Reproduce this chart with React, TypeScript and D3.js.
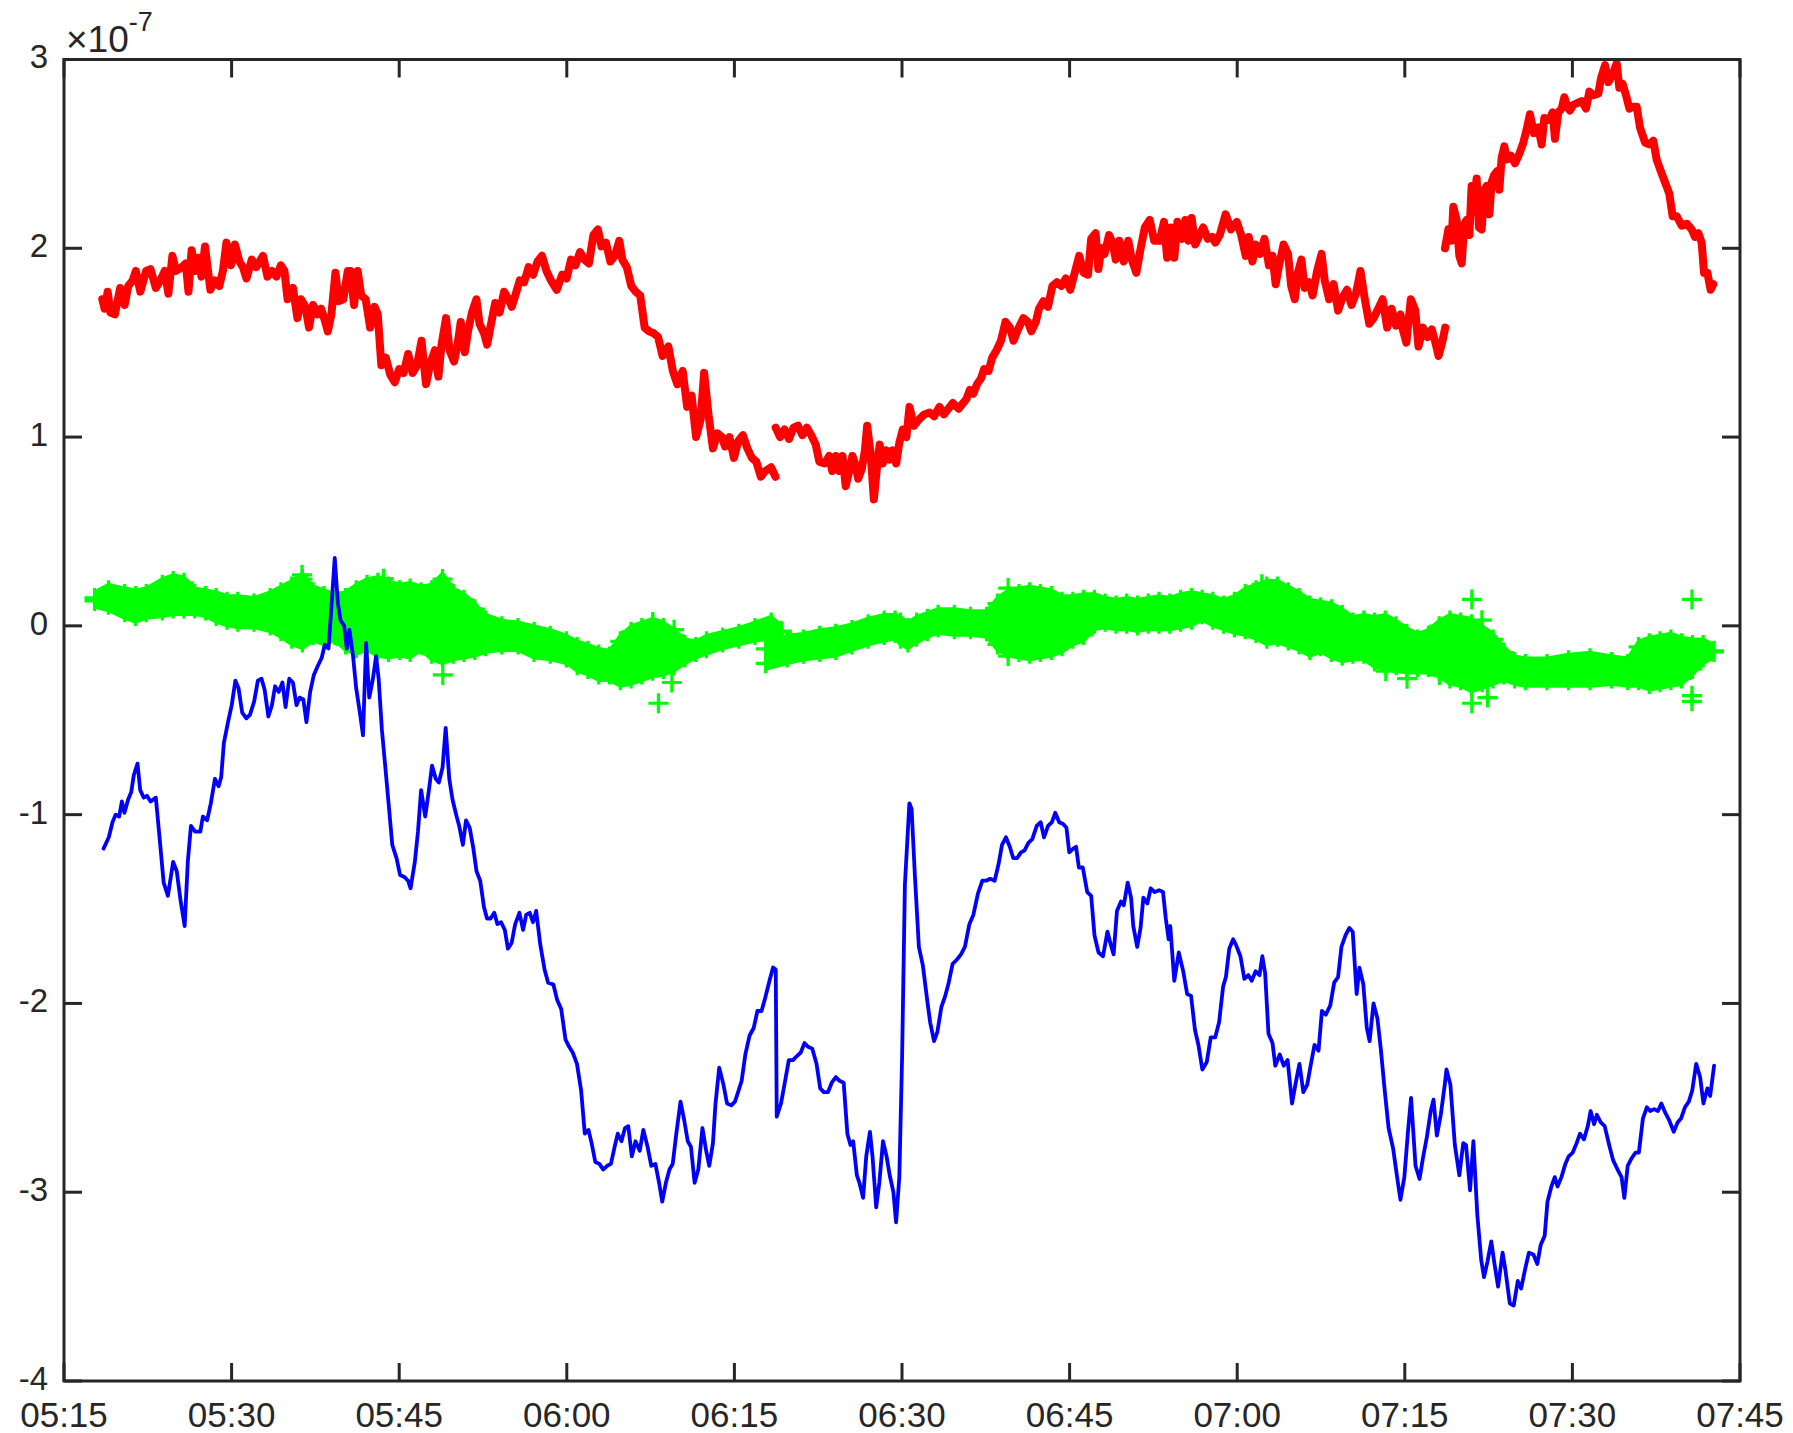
import React, { useEffect } from 'react';
import * as d3 from 'd3';

// time in minutes after 05:15, values in units of 1e-7
const xTickLabels = ['05:15', '05:30', '05:45', '06:00', '06:15', '06:30', '06:45', '07:00', '07:15', '07:30', '07:45'];
const yTicks = [-4, -3, -2, -1, 0, 1, 2, 3];
const exponentLabel = '-7';

const redSeg1: [number, number][] = [
  [3.43, 1.73], [3.63, 1.68], [3.91, 1.77], [4.15, 1.66], [4.55, 1.65], [5.03, 1.79], [5.43, 1.7], [5.75, 1.8], [6.15, 1.83], [6.43, 1.88],
  [6.83, 1.77], [7.35, 1.88], [7.74, 1.89], [8.22, 1.79], [8.62, 1.83], [9.02, 1.88], [9.34, 1.76], [9.7, 1.96], [10.02, 1.88], [10.54, 1.9],
  [10.9, 1.92], [11.14, 1.77], [11.42, 1.99], [11.74, 1.88], [12.02, 1.95], [12.3, 1.85], [12.62, 2.01], [13.1, 1.78], [13.5, 1.83], [13.9, 1.8],
  [14.22, 1.88], [14.54, 2.03], [14.94, 1.91], [15.3, 2.02], [15.7, 1.93], [16.01, 1.9], [16.33, 1.84], [16.81, 1.94], [17.21, 1.9], [17.81, 1.96],
  [18.21, 1.85], [18.61, 1.88], [19.01, 1.85], [19.41, 1.91], [19.73, 1.88], [20.01, 1.73], [20.49, 1.79], [20.89, 1.63], [21.21, 1.73], [21.61, 1.69],
  [21.93, 1.58], [22.29, 1.7], [22.69, 1.65], [23.01, 1.68], [23.33, 1.62], [23.61, 1.56], [23.93, 1.65], [24.29, 1.87], [24.6, 1.72], [25.0, 1.73],
  [25.4, 1.88], [25.64, 1.88], [25.96, 1.7], [26.28, 1.88], [26.6, 1.75], [27.0, 1.73], [27.4, 1.58], [27.8, 1.69], [28.08, 1.65], [28.4, 1.38],
  [28.8, 1.42], [29.2, 1.33], [29.6, 1.29], [30.0, 1.36], [30.4, 1.34], [30.8, 1.44], [31.2, 1.34], [31.6, 1.38], [32.0, 1.51], [32.4, 1.28],
  [32.79, 1.39], [33.19, 1.46], [33.51, 1.32], [33.79, 1.49], [34.19, 1.63], [34.51, 1.46], [34.91, 1.4], [35.19, 1.48], [35.51, 1.61], [35.87, 1.45],
  [36.19, 1.57], [36.51, 1.66], [36.91, 1.73], [37.19, 1.6], [37.59, 1.55], [37.87, 1.49], [38.19, 1.59], [38.59, 1.71], [38.99, 1.66], [39.39, 1.77],
  [39.79, 1.73], [40.07, 1.69], [40.39, 1.75], [40.79, 1.83], [41.18, 1.82], [41.58, 1.9], [41.98, 1.86], [42.38, 1.93], [42.78, 1.96], [43.18, 1.88],
  [43.58, 1.83], [44.1, 1.78], [44.58, 1.86], [44.98, 1.84], [45.38, 1.94], [45.78, 1.91], [46.18, 1.98], [46.58, 1.94], [46.98, 1.92], [47.38, 2.07],
  [47.78, 2.1], [48.1, 2.01], [48.5, 2.03], [48.9, 1.93], [49.3, 1.96], [49.7, 2.04], [49.97, 1.94], [50.37, 1.9], [50.77, 1.8], [51.17, 1.77],
  [51.57, 1.75], [51.97, 1.58], [52.37, 1.56], [52.77, 1.55], [53.17, 1.53], [53.57, 1.43], [54.09, 1.48], [54.49, 1.35], [54.89, 1.28], [55.37, 1.35],
  [55.77, 1.16], [56.17, 1.22], [56.57, 1.0], [56.97, 1.09], [57.29, 1.34], [57.68, 1.12], [58.08, 0.94], [58.48, 1.02], [58.88, 1.0], [59.16, 0.95],
  [59.56, 1.0], [59.96, 0.89], [60.36, 0.98], [60.76, 1.01], [61.16, 0.94], [61.56, 0.89], [61.96, 0.87], [62.36, 0.79], [62.76, 0.82], [63.28, 0.84],
  [63.68, 0.79],
];

const redSeg2: [number, number][] = [
  [63.69, 1.05], [64.09, 1.0], [64.49, 1.04], [64.89, 0.99], [65.29, 1.05], [65.69, 1.06], [66.09, 1.01], [66.48, 1.05], [66.88, 1.01], [67.28, 0.96],
  [67.6, 0.87], [68.08, 0.86], [68.48, 0.9], [68.76, 0.82], [69.08, 0.9], [69.4, 0.82], [69.68, 0.9], [69.96, 0.74], [70.28, 0.82], [70.56, 0.9],
  [70.8, 0.86], [71.08, 0.78], [71.4, 0.83], [71.68, 0.93], [71.88, 1.06], [72.2, 0.91], [72.48, 0.67], [72.76, 0.84], [73.0, 0.96], [73.28, 0.86],
  [73.6, 0.93], [73.88, 0.88], [74.16, 0.93], [74.48, 0.86], [74.76, 0.97], [75.07, 1.04], [75.39, 1.0], [75.67, 1.16], [76.07, 1.06], [76.47, 1.09],
  [76.99, 1.12], [77.47, 1.13], [77.87, 1.11], [78.35, 1.16], [78.75, 1.12], [79.15, 1.15], [79.55, 1.18], [80.07, 1.15], [80.47, 1.18], [80.75, 1.2],
  [81.07, 1.25], [81.39, 1.23], [81.71, 1.28], [82.07, 1.31], [82.35, 1.36], [82.75, 1.35], [83.07, 1.42], [83.46, 1.46], [83.86, 1.51], [84.26, 1.61],
  [84.66, 1.58], [84.98, 1.51], [85.38, 1.57], [85.86, 1.63], [86.26, 1.61], [86.58, 1.56], [86.98, 1.61], [87.26, 1.68], [87.66, 1.72], [88.06, 1.69],
  [88.46, 1.8], [88.86, 1.82], [89.26, 1.8], [89.66, 1.84], [90.06, 1.78], [90.46, 1.87], [90.86, 1.96], [91.26, 1.87], [91.65, 1.86], [91.93, 2.05],
  [92.33, 2.08], [92.57, 1.89], [92.85, 2.0], [93.13, 1.97], [93.53, 2.07], [93.85, 2.03], [94.13, 1.94], [94.45, 2.04], [94.85, 1.93], [95.25, 2.04],
  [95.57, 1.94], [95.97, 1.87], [96.33, 1.99], [96.73, 2.11], [97.17, 2.15], [97.57, 2.04], [98.05, 2.04], [98.45, 2.14], [98.73, 1.95], [99.05, 2.11],
  [99.37, 1.95], [99.65, 2.14], [100.05, 2.05], [100.36, 2.15], [100.64, 2.04], [100.92, 2.16], [101.24, 2.02], [101.64, 2.07], [101.96, 2.11], [102.36, 2.05],
  [102.76, 2.06], [103.04, 2.03], [103.44, 2.07], [103.96, 2.18], [104.44, 2.1], [104.96, 2.14], [105.36, 2.07], [105.76, 1.96], [106.04, 2.06], [106.36, 1.93],
  [106.64, 2.02], [107.04, 1.97], [107.44, 2.05], [107.84, 1.91], [108.16, 1.96], [108.44, 1.81], [108.75, 1.91], [109.15, 2.02], [109.55, 1.97], [109.83, 1.8],
  [110.15, 1.73], [110.43, 1.87], [110.75, 1.94], [111.03, 1.79], [111.43, 1.82], [111.75, 1.75], [112.15, 1.88], [112.55, 1.97], [112.83, 1.83], [113.23, 1.73],
  [113.63, 1.81], [114.03, 1.67], [114.43, 1.74], [114.83, 1.78], [115.23, 1.7], [115.63, 1.76], [116.03, 1.88], [116.42, 1.73], [116.82, 1.6], [117.22, 1.63],
  [117.62, 1.68], [118.02, 1.73], [118.42, 1.58], [118.82, 1.68], [119.22, 1.59], [119.62, 1.65], [119.82, 1.57], [120.14, 1.5], [120.54, 1.73], [120.94, 1.67],
  [121.22, 1.48], [121.62, 1.58], [122.02, 1.53], [122.42, 1.57], [122.74, 1.5], [123.02, 1.43], [123.34, 1.5], [123.62, 1.58],
];

const redSeg3: [number, number][] = [
  [123.6, 2.0], [123.9, 2.1], [124.19, 2.04], [124.34, 2.22], [124.64, 2.15], [124.88, 1.96], [125.09, 1.92], [125.33, 2.13], [125.54, 2.15], [125.78, 2.07],
  [125.98, 2.33], [126.19, 2.24], [126.43, 2.37], [126.64, 2.11], [126.88, 2.1], [127.12, 2.31], [127.33, 2.33], [127.57, 2.18], [127.77, 2.35], [128.01, 2.39],
  [128.28, 2.41], [128.46, 2.31], [128.67, 2.48], [128.91, 2.54], [129.12, 2.47], [129.5, 2.49], [129.86, 2.45], [130.25, 2.5], [130.61, 2.56], [130.91, 2.63],
  [131.2, 2.71], [131.56, 2.61], [131.95, 2.64], [132.25, 2.55], [132.49, 2.69], [132.94, 2.68], [133.23, 2.72], [133.44, 2.58], [133.74, 2.72], [134.04, 2.74],
  [134.28, 2.8], [134.49, 2.76], [134.78, 2.73], [135.08, 2.76], [135.47, 2.77], [135.83, 2.78], [136.22, 2.74], [136.52, 2.83], [136.87, 2.81], [137.32, 2.82],
  [137.56, 2.9], [137.92, 2.97], [138.22, 2.88], [138.66, 2.93], [138.96, 2.98], [139.2, 2.85], [139.5, 2.87], [139.8, 2.81], [140.1, 2.74], [140.45, 2.75],
  [140.75, 2.75], [141.05, 2.64], [141.5, 2.56], [141.88, 2.55], [142.24, 2.57], [142.54, 2.47], [142.84, 2.42], [143.29, 2.35], [143.67, 2.29], [143.97, 2.17],
  [144.33, 2.17], [144.78, 2.12], [145.23, 2.13], [145.67, 2.1], [145.97, 2.06], [146.27, 2.08], [146.57, 2.03], [146.78, 1.87], [147.08, 1.87], [147.37, 1.78],
  [147.61, 1.81],
];

const blueTrace: [number, number][] = [
  [3.54, -1.18], [4.01, -1.12], [4.34, -1.04], [4.62, -1.0], [4.94, -1.01], [5.18, -0.93], [5.41, -0.99], [5.74, -0.92], [6.02, -0.88], [6.25, -0.79],
  [6.58, -0.73], [6.82, -0.87], [7.14, -0.91], [7.42, -0.9], [7.75, -0.93], [8.22, -0.91], [8.55, -1.12], [8.92, -1.36], [9.3, -1.43], [9.77, -1.25],
  [10.09, -1.3], [10.42, -1.45], [10.8, -1.59], [11.08, -1.25], [11.36, -1.06], [11.73, -1.09], [12.2, -1.09], [12.43, -1.01], [12.81, -1.03], [13.14, -0.94],
  [13.51, -0.81], [13.84, -0.85], [14.07, -0.8], [14.31, -0.62], [14.68, -0.51], [15.01, -0.42], [15.34, -0.29], [15.62, -0.33], [15.95, -0.46], [16.32, -0.49],
  [16.65, -0.47], [17.02, -0.4], [17.35, -0.29], [17.68, -0.28], [17.96, -0.34], [18.29, -0.48], [18.61, -0.42], [18.89, -0.32], [19.22, -0.35], [19.55, -0.3],
  [19.83, -0.43], [20.16, -0.28], [20.49, -0.3], [20.81, -0.42], [21.1, -0.38], [21.42, -0.39], [21.7, -0.51], [22.03, -0.35], [22.36, -0.26], [22.73, -0.21],
  [23.06, -0.17], [23.34, -0.1], [23.67, -0.12], [23.9, 0.07], [24.23, 0.36], [24.51, 0.12], [24.75, 0.03], [25.08, 0.0], [25.31, -0.12], [25.54, -0.02],
  [25.87, -0.16], [26.15, -0.33], [26.48, -0.46], [26.76, -0.58], [27.04, -0.09], [27.32, -0.38], [27.65, -0.28], [27.93, -0.16], [28.16, -0.28], [28.45, -0.55],
  [28.73, -0.73], [29.05, -0.94], [29.38, -1.16], [29.76, -1.23], [30.08, -1.32], [30.46, -1.33], [30.79, -1.35], [31.02, -1.39], [31.4, -1.25], [31.68, -1.09],
  [31.96, -0.87], [32.33, -1.01], [32.66, -0.87], [32.94, -0.74], [33.27, -0.81], [33.55, -0.83], [33.88, -0.75], [34.16, -0.54], [34.48, -0.81], [34.77, -0.92],
  [35.14, -1.01], [35.37, -1.06], [35.7, -1.16], [35.98, -1.03], [36.31, -1.07], [36.64, -1.18], [36.92, -1.3], [37.25, -1.35], [37.59, -1.49], [37.86, -1.55],
  [38.18, -1.55], [38.51, -1.52], [38.79, -1.58], [39.12, -1.57], [39.45, -1.61], [39.73, -1.71], [40.06, -1.68], [40.38, -1.58], [40.76, -1.52], [41.09, -1.61],
  [41.37, -1.53], [41.69, -1.52], [41.97, -1.57], [42.26, -1.51], [42.63, -1.69], [43.01, -1.82], [43.33, -1.89], [43.8, -1.9], [44.13, -1.98], [44.5, -2.03],
  [44.88, -2.19], [45.21, -2.23], [45.53, -2.26], [45.91, -2.32], [46.28, -2.46], [46.61, -2.69], [46.94, -2.67], [47.22, -2.74], [47.55, -2.84], [47.92, -2.85],
  [48.25, -2.88], [48.62, -2.86], [48.95, -2.85], [49.28, -2.76], [49.56, -2.69], [49.89, -2.73], [50.21, -2.66], [50.5, -2.65], [50.82, -2.81], [51.15, -2.73],
  [51.53, -2.78], [51.85, -2.67], [52.23, -2.76], [52.56, -2.86], [52.93, -2.85], [53.26, -2.95], [53.54, -3.05], [53.87, -2.95], [54.19, -2.88], [54.48, -2.85],
  [54.8, -2.69], [55.18, -2.52], [55.51, -2.62], [55.83, -2.73], [56.11, -2.76], [56.44, -2.95], [56.77, -2.88], [57.14, -2.66], [57.47, -2.78], [57.75, -2.86],
  [58.08, -2.74], [58.31, -2.53], [58.64, -2.34], [59.02, -2.43], [59.34, -2.53], [59.72, -2.54], [60.05, -2.52], [60.33, -2.47], [60.65, -2.41], [60.98, -2.27],
  [61.36, -2.17], [61.73, -2.13], [62.06, -2.04], [62.43, -2.04], [62.76, -1.97], [63.14, -1.88], [63.46, -1.81], [63.7, -1.82], [63.79, -2.6], [64.17, -2.53],
  [64.54, -2.41], [64.87, -2.3], [65.24, -2.3], [65.57, -2.28], [65.94, -2.26], [66.27, -2.21], [66.6, -2.23], [66.97, -2.24], [67.35, -2.32], [67.68, -2.45],
  [68.0, -2.47], [68.38, -2.47], [68.71, -2.42], [69.08, -2.39], [69.41, -2.41], [69.78, -2.42], [70.11, -2.69], [70.39, -2.75], [70.63, -2.73], [70.96, -2.91],
  [71.19, -2.95], [71.52, -3.03], [71.8, -2.81], [72.13, -2.68], [72.36, -2.81], [72.69, -3.08], [72.97, -2.95], [73.3, -2.73], [73.62, -2.81], [73.9, -2.91],
  [74.23, -3.0], [74.47, -3.16], [74.76, -2.92], [75.01, -2.28], [75.26, -1.37], [75.66, -0.94], [75.86, -0.97], [76.16, -1.33], [76.51, -1.7], [76.87, -1.8],
  [77.27, -1.99], [77.52, -2.1], [77.87, -2.2], [78.17, -2.15], [78.52, -2.02], [78.87, -1.96], [79.18, -1.89], [79.53, -1.79], [79.88, -1.77], [80.28, -1.74],
  [80.63, -1.7], [81.03, -1.58], [81.39, -1.53], [81.79, -1.42], [82.19, -1.35], [82.54, -1.35], [82.89, -1.34], [83.29, -1.35], [83.65, -1.26], [83.95, -1.16],
  [84.3, -1.12], [84.65, -1.17], [84.95, -1.23], [85.3, -1.23], [85.65, -1.2], [85.96, -1.19], [86.31, -1.15], [86.66, -1.13], [87.06, -1.06], [87.41, -1.04],
  [87.71, -1.12], [88.07, -1.06], [88.42, -1.04], [88.72, -0.99], [89.07, -1.04], [89.42, -1.05], [89.72, -1.07], [89.97, -1.2], [90.33, -1.18], [90.58, -1.17],
  [90.83, -1.28], [91.18, -1.28], [91.58, -1.41], [91.93, -1.43], [92.23, -1.64], [92.59, -1.73], [92.99, -1.75], [93.39, -1.62], [93.69, -1.69], [93.94, -1.74],
  [94.24, -1.51], [94.6, -1.46], [94.85, -1.48], [95.2, -1.36], [95.5, -1.44], [95.7, -1.59], [96.05, -1.7], [96.35, -1.6], [96.6, -1.44], [96.96, -1.47],
  [97.26, -1.39], [97.61, -1.41], [98.01, -1.4], [98.36, -1.41], [98.61, -1.55], [98.86, -1.66], [99.01, -1.59], [99.37, -1.88], [99.77, -1.73], [100.17, -1.83],
  [100.52, -1.95], [100.87, -1.96], [101.22, -2.14], [101.53, -2.22], [101.88, -2.35], [102.28, -2.31], [102.63, -2.18], [103.03, -2.18], [103.38, -2.1], [103.74, -1.91],
  [103.99, -1.86], [104.29, -1.71], [104.64, -1.66], [104.89, -1.69], [105.29, -1.75], [105.64, -1.87], [106.0, -1.85], [106.3, -1.88], [106.65, -1.83], [107.0, -1.85],
  [107.25, -1.75], [107.5, -1.84], [107.8, -2.16], [108.16, -2.21], [108.41, -2.33], [108.81, -2.27], [109.16, -2.33], [109.51, -2.3], [109.91, -2.53], [110.27, -2.41],
  [110.57, -2.32], [110.92, -2.47], [111.27, -2.43], [111.57, -2.33], [111.92, -2.22], [112.28, -2.25], [112.58, -2.04], [112.93, -2.06], [113.33, -2.01], [113.68, -1.89],
  [114.03, -1.86], [114.33, -1.7], [114.69, -1.64], [115.04, -1.6], [115.34, -1.62], [115.69, -1.95], [115.94, -1.81], [116.29, -1.9], [116.6, -2.13], [116.85, -2.2],
  [117.2, -2.0], [117.55, -2.08], [117.85, -2.24], [118.2, -2.46], [118.55, -2.66], [118.96, -2.77], [119.31, -2.92], [119.61, -3.04], [119.96, -2.92], [120.31, -2.66],
  [120.56, -2.5], [120.96, -2.86], [121.32, -2.93], [121.62, -2.82], [121.97, -2.71], [122.32, -2.57], [122.57, -2.51], [122.87, -2.7], [123.22, -2.59], [123.58, -2.43],
  [123.73, -2.35], [124.08, -2.43], [124.48, -2.75], [124.88, -2.91], [125.23, -2.74], [125.48, -2.75], [125.84, -2.99], [126.14, -2.73], [126.49, -3.12], [126.84, -3.36],
  [127.09, -3.45], [127.39, -3.37], [127.74, -3.26], [128.0, -3.37], [128.35, -3.5], [128.75, -3.32], [129.0, -3.41], [129.4, -3.59], [129.75, -3.6], [130.11, -3.47],
  [130.41, -3.51], [130.76, -3.41], [131.11, -3.32], [131.51, -3.33], [131.86, -3.38], [132.16, -3.28], [132.52, -3.23], [132.77, -3.05], [133.12, -2.97], [133.42, -2.92],
  [133.67, -2.97], [134.02, -2.92], [134.37, -2.85], [134.67, -2.81], [135.03, -2.79], [135.38, -2.74], [135.68, -2.69], [136.03, -2.72], [136.38, -2.65], [136.63, -2.57],
  [136.94, -2.64], [137.19, -2.59], [137.54, -2.63], [137.89, -2.65], [138.29, -2.75], [138.64, -2.83], [139.04, -2.88], [139.4, -2.92], [139.65, -3.03], [139.95, -2.86],
  [140.3, -2.82], [140.65, -2.79], [140.95, -2.79], [141.31, -2.61], [141.66, -2.55], [141.96, -2.57], [142.31, -2.56], [142.66, -2.57], [142.96, -2.53], [143.32, -2.58],
  [143.67, -2.62], [144.07, -2.68], [144.42, -2.63], [144.72, -2.61], [145.07, -2.55], [145.42, -2.52], [145.73, -2.46], [146.08, -2.32], [146.43, -2.39], [146.73, -2.53],
  [147.08, -2.45], [147.33, -2.49], [147.68, -2.33],
];

// green band: [time, upper edge, lower edge]
const greenSeg1: [number, number, number][] = [
  [2.73, 0.18, 0.1], [3.98, 0.22, 0.08], [5.43, 0.2, 0.04], [6.39, 0.19, 0.02], [7.36, 0.2, 0.04], [8.8, 0.25, 0.05], [9.77, 0.27, 0.06], [10.73, 0.26, 0.06],
  [11.7, 0.2, 0.06], [12.66, 0.19, 0.05], [13.62, 0.18, 0.02], [14.59, 0.16, 0.0], [15.55, 0.16, -0.01], [17.0, 0.15, -0.01], [18.45, 0.18, -0.03], [19.41, 0.21, -0.06],
  [20.38, 0.24, -0.1], [21.34, 0.28, -0.12], [22.3, 0.21, -0.08], [23.27, 0.19, -0.1], [24.23, 0.17, -0.08], [25.2, 0.18, -0.13], [26.16, 0.22, -0.15], [27.12, 0.25, -0.13],
  [28.09, 0.26, -0.16], [29.05, 0.24, -0.17], [30.02, 0.22, -0.16], [30.98, 0.23, -0.17], [31.95, 0.21, -0.13], [32.91, 0.22, -0.18], [33.88, 0.28, -0.2], [34.84, 0.2, -0.18],
  [35.8, 0.17, -0.17], [36.77, 0.12, -0.16], [37.73, 0.06, -0.14], [39.18, 0.03, -0.13], [40.63, 0.02, -0.13], [42.07, 0.0, -0.17], [43.52, -0.02, -0.18], [44.96, -0.05, -0.2],
  [45.93, -0.08, -0.24], [46.89, -0.1, -0.26], [47.86, -0.12, -0.29], [48.82, -0.13, -0.29], [49.79, -0.05, -0.32], [50.75, 0.0, -0.31], [51.71, 0.02, -0.29], [52.68, 0.04, -0.27],
  [53.64, 0.02, -0.26], [54.61, -0.02, -0.24], [55.57, -0.07, -0.2], [56.54, -0.08, -0.17], [57.5, -0.05, -0.15], [58.95, -0.03, -0.12], [60.39, -0.01, -0.1], [61.84, 0.02, -0.08],
  [63.29, 0.05, -0.07], [64.25, 0.0, -0.06],
];

const greenSeg2: [number, number, number][] = [
  [62.8, -0.09, -0.23], [64.73, -0.05, -0.2], [66.18, -0.04, -0.18], [67.63, -0.02, -0.17], [69.07, -0.01, -0.16], [70.52, 0.01, -0.13], [71.97, 0.04, -0.1], [73.41, 0.06, -0.08],
  [74.38, 0.06, -0.07], [74.86, 0.05, -0.1], [75.53, 0.02, -0.12], [76.31, 0.05, -0.09], [77.27, 0.07, -0.06], [78.23, 0.09, -0.04], [79.68, 0.09, -0.05], [81.13, 0.08, -0.05],
  [82.57, 0.08, -0.06], [83.54, 0.15, -0.13], [84.5, 0.19, -0.16], [85.47, 0.2, -0.17], [86.43, 0.21, -0.18], [87.39, 0.2, -0.17], [88.36, 0.19, -0.16], [89.32, 0.16, -0.14],
  [90.29, 0.16, -0.1], [91.25, 0.17, -0.08], [92.22, 0.17, -0.02], [93.18, 0.15, -0.01], [94.15, 0.14, -0.02], [95.11, 0.15, -0.02], [96.07, 0.14, -0.03], [97.04, 0.15, -0.02],
  [98.0, 0.16, -0.02], [98.97, 0.15, -0.02], [99.93, 0.17, -0.01], [100.9, 0.18, 0.0], [101.86, 0.17, 0.03], [102.82, 0.16, 0.0], [103.79, 0.14, -0.02], [104.75, 0.16, -0.04],
  [105.72, 0.2, -0.05], [106.68, 0.22, -0.07], [107.65, 0.24, -0.1], [108.61, 0.24, -0.09], [109.58, 0.21, -0.11], [110.54, 0.18, -0.13], [111.5, 0.14, -0.16], [112.47, 0.13, -0.14],
  [113.43, 0.12, -0.17], [114.4, 0.09, -0.19], [115.36, 0.05, -0.18], [116.33, 0.06, -0.18], [117.29, 0.05, -0.22], [118.25, 0.06, -0.23], [119.22, 0.03, -0.24], [120.18, -0.01, -0.25],
  [121.15, -0.04, -0.25], [122.11, -0.02, -0.25], [123.08, 0.03, -0.27], [124.04, 0.06, -0.31], [125.0, 0.05, -0.32], [125.97, 0.04, -0.35], [126.93, 0.0, -0.33], [127.9, -0.04, -0.31],
  [128.86, -0.11, -0.29], [129.83, -0.16, -0.31], [130.79, -0.17, -0.32], [132.72, -0.17, -0.32], [134.65, -0.15, -0.32], [136.57, -0.14, -0.32], [138.5, -0.16, -0.31], [139.95, -0.17, -0.32],
  [140.92, -0.08, -0.32], [141.88, -0.06, -0.34], [142.84, -0.05, -0.33], [143.81, -0.04, -0.32], [144.77, -0.06, -0.31], [145.74, -0.07, -0.26], [146.7, -0.07, -0.2], [147.67, -0.1, -0.17],
];

const greenOutliers: [number, number][] = [
  [21.3, 0.27], [28.6, 0.25], [33.9, 0.22], [33.9, -0.26], [52.7, 0.02], [54.6, -0.02], [53.2, -0.41], [54.4, -0.3],
  [84.5, 0.2], [84.5, -0.16], [107.2, 0.22], [118.3, -0.24], [120.2, -0.28], [123.1, -0.26], [126.0, 0.14], [126.0, -0.41],
  [126.9, 0.03], [127.4, -0.38], [145.7, 0.14], [145.7, -0.37], [145.7, -0.4],
];

const W = 1793;
const H = 1433;
const M = { left: 64, right: 1740, top: 59.5, bottom: 1381 };
const AXIS = '#262626';
const FONT = '"Liberation Sans", Arial, Helvetica, sans-serif';
const ARM = 10; // half size of the '+' marker in px
const INSET = 6; // edge markers sit a little inside the band edge

const parseHM = d3.timeParse('%H:%M');
const t0 = parseHM(xTickLabels[0])!.getTime();
const toDate = (m: number) => new Date(t0 + m * 60000);

const plus = (cx: number, cy: number) => `M${cx - ARM},${cy}H${cx + ARM}M${cx},${cy - ARM}V${cy + ARM}`;

export default function App() {
  useEffect(() => {
    document.body.style.margin = '0';
  }, []);

  const x = d3.scaleTime()
    .domain([parseHM(xTickLabels[0])!, parseHM(xTickLabels[xTickLabels.length - 1])!])
    .range([M.left, M.right]);
  const y = d3.scaleLinear().domain([-4, 3]).range([M.bottom, M.top]);

  const line = d3.line<[number, number]>()
    .x(d => x(toDate(d[0])))
    .y(d => y(d[1]));

  const band = d3.area<[number, number, number]>()
    .x(d => x(toDate(d[0])))
    .y0(d => y(d[2]))
    .y1(d => y(d[1]));

  const tickLen = 18;

  return (
    <svg width={W} height={H} style={{ position: 'absolute', left: 0, top: 0, background: '#fff', fontFamily: FONT }}>
      <rect x={0} y={0} width={W} height={H} fill="#fff" />

      {/* green: dense '+' markers, drawn as their filled band with edge markers */}
      <g stroke="#00ff00" strokeWidth={3.2} fill="none">
        {[greenSeg1, greenSeg2].map((seg, i) => (
          <g key={i}>
            <path d={band(seg) || ''} fill="#00ff00" strokeWidth={3} />
            {seg.map((d, j) => {
              const cx = x(toDate(d[0]));
              return <path key={j} d={plus(cx, y(d[1]) + INSET) + plus(cx, y(d[2]) - INSET)} />;
            })}
          </g>
        ))}
        {greenOutliers.map((d, i) => (
          <path key={i} d={plus(x(toDate(d[0])), y(d[1]))} />
        ))}
      </g>

      {/* red */}
      {[redSeg1, redSeg2, redSeg3].map((seg, i) => (
        <path key={i} d={line(seg) || ''} fill="none" stroke="#ff0000" strokeWidth={8}
          strokeLinejoin="round" strokeLinecap="round" />
      ))}

      {/* blue */}
      <path d={line(blueTrace) || ''} fill="none" stroke="#0000ff" strokeWidth={3.8}
        strokeLinejoin="round" strokeLinecap="round" />

      {/* axes box */}
      <rect x={M.left} y={M.top} width={M.right - M.left} height={M.bottom - M.top}
        fill="none" stroke={AXIS} strokeWidth={3} />

      {xTickLabels.map(lbl => {
        const px = x(parseHM(lbl)!);
        return (
          <g key={lbl}>
            <line x1={px} x2={px} y1={M.bottom} y2={M.bottom - tickLen} stroke={AXIS} strokeWidth={3} />
            <line x1={px} x2={px} y1={M.top} y2={M.top + tickLen} stroke={AXIS} strokeWidth={3} />
            <text x={px} y={1427} textAnchor="middle" fontSize={35} fill={AXIS}>{lbl}</text>
          </g>
        );
      })}

      {yTicks.map(v => {
        const py = y(v);
        return (
          <g key={v}>
            <line x1={M.left} x2={M.left + tickLen} y1={py} y2={py} stroke={AXIS} strokeWidth={3} />
            <line x1={M.right} x2={M.right - tickLen} y1={py} y2={py} stroke={AXIS} strokeWidth={3} />
            <text x={48} y={py - 3} dy="0.36em" textAnchor="end" fontSize={33} fill={AXIS}>{String(v)}</text>
          </g>
        );
      })}

      <text x={66} y={52} fontSize={37} fill={AXIS}>
        ×10
        <tspan dy={-21} fontSize={27}>{exponentLabel}</tspan>
      </text>
    </svg>
  );
}
